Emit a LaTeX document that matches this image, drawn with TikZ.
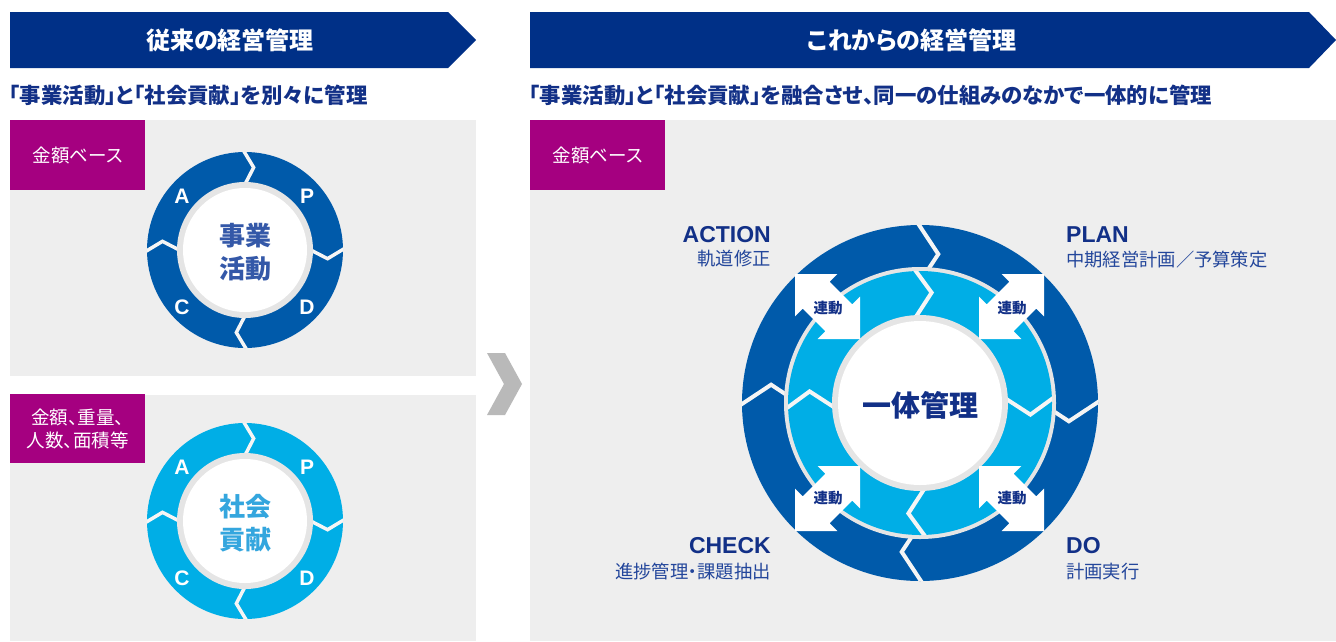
\documentclass[tikz,border=0pt]{standalone}
\usepackage{fontspec}
\newfontfamily\jp[RawFeature=+palt]{Noto Sans CJK JP}
\newfontfamily\lat{Liberation Sans}
\definecolor{navy}{RGB}{0,48,135}
\definecolor{txtnavy}{RGB}{18,48,135}
\definecolor{subnavy}{RGB}{35,70,155}
\definecolor{mag}{RGB}{165,0,128}
\definecolor{ringdark}{RGB}{0,90,170}
\definecolor{ringlight}{RGB}{0,174,230}
\definecolor{panel}{RGB}{238,238,238}
\definecolor{band}{RGB}{229,229,229}
\definecolor{chev}{RGB}{185,185,185}
\definecolor{ctrtop}{RGB}{52,88,168}
\definecolor{ctrbot}{RGB}{52,166,222}
\definecolor{sepc}{RGB}{245,245,245}
\tikzset{
  hdrtext/.style={inner sep=0pt, text=white, font=\jp\bfseries\fontsize{24}{24}\selectfont},
  subt/.style={inner sep=0pt, anchor=west, text=txtnavy, font=\jp\bfseries\fontsize{21.4}{21.4}\selectfont},
  tagbox/.style={fill=mag, text=white, inner sep=0pt, anchor=north west, minimum width=135pt, minimum height=70pt, align=center, font=\jp\fontsize{18.5}{23}\selectfont},
  apdc/.style={inner sep=0pt, text=white, font=\lat\bfseries\fontsize{21}{21}\selectfont},
  ctrtxt/.style={inner sep=0pt, align=center, font=\jp\bfseries\fontsize{26}{33}\selectfont},
  sepS/.style={draw=sepc, line width=3.5pt},
  sepB/.style={draw=sepc, line width=4pt},
  bigtxt/.style={inner sep=0pt, text=txtnavy, font=\jp\bfseries\fontsize{29}{29}\selectfont},
  rtxt/.style={inner sep=0pt, text=txtnavy, font=\jp\bfseries\fontsize{14.5}{14.5}\selectfont},
  labL/.style={inner sep=0pt, text=txtnavy, font=\lat\bfseries\fontsize{23}{23}\selectfont},
  labJ/.style={inner sep=0pt, text=subnavy, font=\jp\fontsize{18.3}{18.3}\selectfont},
  rarrowA/.pic={\fill[white] (-32.5,-32.5) -- (9.9,-32.5) -- (2.1,-24.7) -- (24.7,-2.1) -- (32.5,-9.9) -- (32.5,32.5) -- (-9.9,32.5) -- (-2.1,24.7) -- (-24.7,2.1) -- (-32.5,9.9) -- cycle;},
  rarrowB/.pic={\fill[white] (32.5,-32.5) -- (-9.9,-32.5) -- (-2.1,-24.7) -- (-24.7,-2.1) -- (-32.5,-9.9) -- (-32.5,32.5) -- (9.9,32.5) -- (2.1,24.7) -- (24.7,2.1) -- (32.5,9.9) -- cycle;}
}
\begin{document}
\begin{tikzpicture}[x=1pt,y=-1pt]
\useasboundingbox (0,0) rectangle (1336,641);
\fill[white] (0,0) rectangle (1336,641);
% headers
\fill[navy] (10,12) -- (448,12) -- (476,40) -- (448,68) -- (10,68) -- cycle;
\node[hdrtext] (h1) at (230,40) {従来の経営管理};
\fill[navy] (530,12) -- (1309,12) -- (1336,40) -- (1309,68) -- (530,68) -- cycle;
\node[hdrtext] (h2) at (912,40) {これからの経営管理};
% subtitles
\node[subt] (s1) at (9,95) {「事業活動」と「社会貢献」を別々に管理};
\node[subt] (s2) at (529,95) {「事業活動」と「社会貢献」を融合させ、同一の仕組みのなかで一体的に管理};
% panels
\fill[panel] (10,120) rectangle (476,376);
\fill[panel] (10,395) rectangle (476,641);
\fill[panel] (530,120) rectangle (1336,641);
\node[tagbox] (t1) at (10,120) {金額ベース};
\node[tagbox, minimum height=69pt] (t2) at (10,394) {金額、重量、\\人数、面積等};
\node[tagbox] (t3) at (530,120) {金額ベース};
% chevron
\fill[chev] (487,353) -- (505,353) -- (522,384) -- (505,415) -- (487,415) -- (504,384) -- cycle;
% small cycle top
\begin{scope}[shift={(245,250)}]
\fill[ringdark] (0,0) circle (98pt);
\begin{scope}
\clip (0,0) circle (98pt);
\foreach \b in {-94,-4,86,176} \draw[sepS] (\b:110) -- (\b+10:83) -- (\b:58);
\end{scope}
\fill[band] (0,0) circle (68pt);
\fill[white] (0,0) circle (62pt);
\end{scope}
\node[apdc] (a1) at (182,196) {A};
\node[apdc] (p1) at (307,196) {P};
\node[apdc] (c1) at (182,307) {C};
\node[apdc] (d1) at (307,307) {D};
\node[ctrtxt, text=ctrtop] (m1) at (245,252) {事業\\活動};
% small cycle bottom
\begin{scope}[shift={(245,521)}]
\fill[ringlight] (0,0) circle (98pt);
\begin{scope}
\clip (0,0) circle (98pt);
\foreach \b in {-94,-4,86,176} \draw[sepS] (\b:110) -- (\b+10:83) -- (\b:58);
\end{scope}
\fill[band] (0,0) circle (68pt);
\fill[white] (0,0) circle (62pt);
\end{scope}
\node[apdc] (a2) at (182,467) {A};
\node[apdc] (p2) at (307,467) {P};
\node[apdc] (c2) at (182,578) {C};
\node[apdc] (d2) at (307,578) {D};
\node[ctrtxt, text=ctrbot] (m2) at (245,523) {社会\\貢献};
% big cycle
\begin{scope}[shift={(920,403)}]
\fill[ringdark] (0,0) circle (178pt);
\begin{scope}
\clip (0,0) circle (178pt);
\foreach \b in {0,90,180,270} \draw[sepB] (-93+\b:192) -- (-83+\b:150) -- (-88+\b:128);
\end{scope}
\fill[band] (0,0) circle (136pt);
\fill[ringlight] (0,0) circle (132pt);
\begin{scope}
\clip (0,0) circle (132pt);
\foreach \b in {0,90,180,270} \draw[sepB] (-95+\b:144) -- (-84+\b:111) -- (-96+\b:80);
\end{scope}
\fill[band] (0,0) circle (88pt);
\fill[white] (0,0) circle (82pt);
\end{scope}
\pic (ra1) at (827.5,306.5) {rarrowA};
\pic (ra2) at (1011.5,306.5) {rarrowB};
\pic (ra3) at (827.5,498.5) {rarrowB};
\pic (ra4) at (1011.5,498.5) {rarrowA};
\node[rtxt] (r1) at (828,308) {連動};
\node[rtxt] (r2) at (1012,308) {連動};
\node[rtxt] (r3) at (828,498) {連動};
\node[rtxt] (r4) at (1012,498) {連動};
\node[bigtxt] (ctr) at (920,405) {一体管理};
% labels
\node[labL, anchor=east] (lA) at (771,235) {ACTION};
\node[labJ, anchor=east] (lA2) at (771,259) {軌道修正};
\node[labL, anchor=west] (lP) at (1066,235) {PLAN};
\node[labJ, anchor=west] (lP2) at (1066,260) {中期経営計画／予算策定};
\node[labL, anchor=east] (lC) at (771,546) {CHECK};
\node[labJ, anchor=east] (lC2) at (771,572) {進捗管理・課題抽出};
\node[labL, anchor=west] (lD) at (1066,546) {DO};
\node[labJ, anchor=west] (lD2) at (1066,572) {計画実行};
\end{tikzpicture}
\end{document}
